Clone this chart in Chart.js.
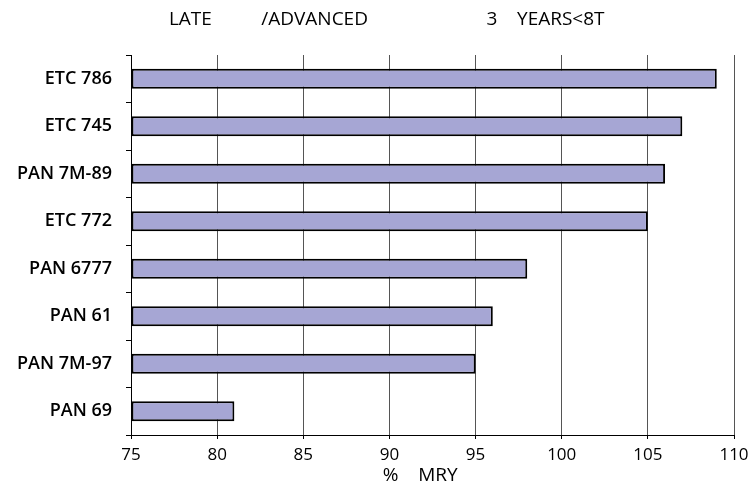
<!DOCTYPE html>
<html>
<head>
<meta charset="utf-8">
<script src="https://cdn.jsdelivr.net/npm/chart.js@4/dist/chart.umd.min.js"></script>
<style>
  html, body { margin: 0; padding: 0; background: #ffffff; }
  #wrap { width: 755px; height: 487px; }
</style>
</head>
<body>
<div id="wrap"><canvas id="c" width="755" height="487"></canvas></div>
<script>
const categories = ['ETC 786', 'ETC 745', 'PAN 7M-89', 'ETC 772', 'PAN 6777', 'PAN 61', 'PAN 7M-97', 'PAN 69'];
const mryValues = [109, 107, 106, 105, 98, 96, 95, 81];
const xMin = 75;
const xMax = 110;
const xStep = 5;
const chartTitle = '        LATE          /ADVANCED                        3    YEARS<8T';
const xAxisTitle = '%    MRY     ';

const FONT = "'Open Sans', 'Noto Sans', sans-serif";

new Chart(document.getElementById('c'), {
  type: 'bar',
  data: {
    labels: categories,
    datasets: [{
      data: mryValues,
      base: xMin,
      backgroundColor: '#a6a6d4',
      borderColor: '#000000',
      borderWidth: 2,
      borderSkipped: false,
      categoryPercentage: 1.0,
      barPercentage: 0.42
    }]
  },
  options: {
    indexAxis: 'y',
    responsive: false,
    animation: false,
    devicePixelRatio: 1,
    layout: { padding: { left: 0, right: 21, top: 0, bottom: 0 } },
    plugins: {
      legend: { display: false },
      tooltip: { enabled: false },
      title: {
        display: true,
        text: chartTitle,
        color: '#000000',
        font: { family: FONT, size: 19, weight: 'normal' },
        padding: { top: 8.6, bottom: 23.6 }
      }
    },
    scales: {
      x: {
        type: 'linear',
        min: xMin,
        max: xMax,
        ticks: {
          stepSize: xStep,
          color: '#000000',
          font: { family: FONT, size: 17 },
          padding: 6,
          maxRotation: 0
        },
        grid: {
          color: '#555555',
          lineWidth: 1,
          drawTicks: true,
          tickLength: 4,
          tickColor: '#000000'
        },
        border: { display: true, color: '#000000', width: 1 },
        title: {
          display: true,
          text: xAxisTitle,
          color: '#000000',
          font: { family: FONT, size: 19 },
          padding: { top: 0, bottom: 0 }
        },
        afterFit: s => { s.height = 52; }
      },
      y: {
        type: 'category',
        offset: true,
        ticks: {
          color: '#000000',
          font: { family: FONT, size: 18, weight: '600' },
          padding: 14
        },
        grid: {
          offset: true,
          drawOnChartArea: false,
          drawTicks: true,
          tickLength: 5,
          tickColor: '#000000'
        },
        border: { display: true, color: '#000000', width: 1 },
        afterFit: s => { s.width = 131; }
      }
    }
  }
});
</script>
</body>
</html>
